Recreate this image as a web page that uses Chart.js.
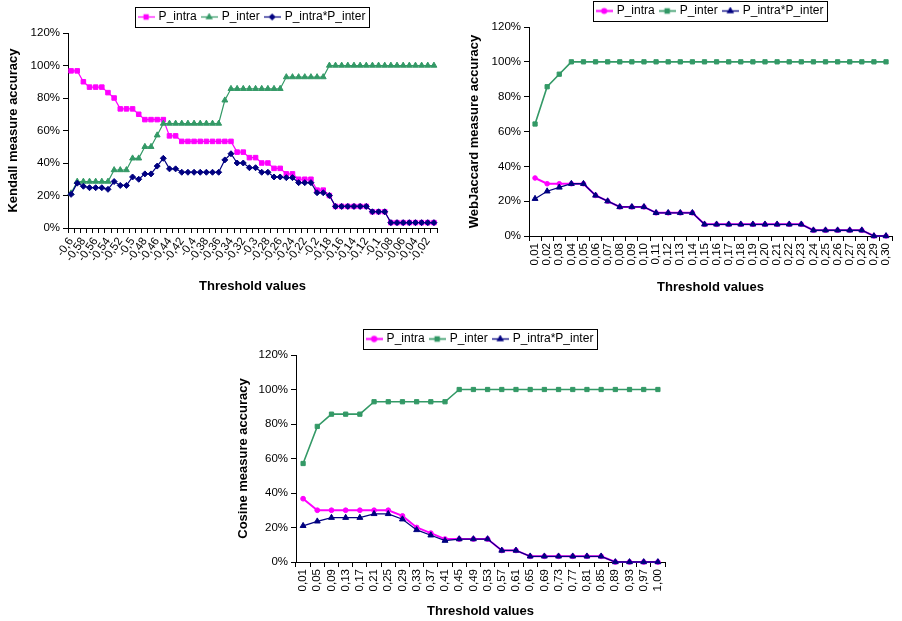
<!DOCTYPE html>
<html>
<head>
<meta charset="utf-8">
<script src="https://cdn.jsdelivr.net/npm/chart.js@4.4.1/dist/chart.umd.min.js"></script>
<style>
  html, body { margin: 0; padding: 0; background: #fff; }
  #page { position: relative; width: 902px; height: 621px; overflow: hidden; background: #fff; }
  #page canvas { position: absolute; }
</style>
</head>
<body>
<div id="page">
  <canvas id="kendall" width="451" height="300" style="left:0px;top:0px;width:451px;height:300px"></canvas>
  <canvas id="jaccard" width="452" height="301" style="left:450px;top:-1px;width:452px;height:301px"></canvas>
  <canvas id="cosine" width="450" height="301" style="left:230px;top:320px;width:450px;height:301px"></canvas>
</div>
<script>
// ---- Kendall measure ----
const kendallThresholds = [
  "-0,6","-0,59","-0,58","-0,57","-0,56","-0,55","-0,54","-0,53","-0,52","-0,51",
  "-0,5","-0,49","-0,48","-0,47","-0,46","-0,45","-0,44","-0,43","-0,42","-0,41",
  "-0,4","-0,39","-0,38","-0,37","-0,36","-0,35","-0,34","-0,33","-0,32","-0,31",
  "-0,3","-0,29","-0,28","-0,27","-0,26","-0,25","-0,24","-0,23","-0,22","-0,21",
  "-0,2","-0,19","-0,18","-0,17","-0,16","-0,15","-0,14","-0,13","-0,12","-0,11",
  "-0,1","-0,09","-0,08","-0,07","-0,06","-0,05","-0,04","-0,03","-0,02","-0,01"
];
const kendallIntra = [
  96.7, 96.7, 90.0, 86.7, 86.7, 86.7, 83.3, 80.0, 73.3, 73.3,
  73.3, 70.0, 66.7, 66.7, 66.7, 66.7, 56.7, 56.7, 53.3, 53.3,
  53.3, 53.3, 53.3, 53.3, 53.3, 53.3, 53.3, 46.7, 46.7, 43.3,
  43.3, 40.0, 40.0, 36.7, 36.7, 33.3, 33.3, 30.0, 30.0, 30.0,
  23.3, 23.3, 20.0, 13.3, 13.3, 13.3, 13.3, 13.3, 13.3, 10.0,
  10.0, 10.0, 3.3, 3.3, 3.3, 3.3, 3.3, 3.3, 3.3, 3.3
];
const kendallInter = [
  21.4, 28.6, 28.6, 28.6, 28.6, 28.6, 28.6, 35.7, 35.7, 35.7,
  42.9, 42.9, 50.0, 50.0, 57.1, 64.3, 64.3, 64.3, 64.3, 64.3,
  64.3, 64.3, 64.3, 64.3, 64.3, 78.6, 85.7, 85.7, 85.7, 85.7,
  85.7, 85.7, 85.7, 85.7, 85.7, 92.9, 92.9, 92.9, 92.9, 92.9,
  92.9, 92.9, 100, 100, 100, 100, 100, 100, 100, 100,
  100, 100, 100, 100, 100, 100, 100, 100, 100, 100
];
const kendallProduct = [
  20.7, 27.6, 25.7, 24.8, 24.8, 24.8, 23.8, 28.6, 26.2, 26.2,
  31.4, 30.0, 33.3, 33.3, 38.1, 42.9, 36.4, 36.4, 34.3, 34.3,
  34.3, 34.3, 34.3, 34.3, 34.3, 41.9, 45.7, 40.0, 40.0, 37.1,
  37.1, 34.3, 34.3, 31.4, 31.4, 31.0, 31.0, 27.9, 27.9, 27.9,
  21.7, 21.7, 20.0, 13.3, 13.3, 13.3, 13.3, 13.3, 13.3, 10.0,
  10.0, 10.0, 3.3, 3.3, 3.3, 3.3, 3.3, 3.3, 3.3, 3.3
];

// ---- WebJaccard measure ----
const jaccardThresholds = [
  "0,01","0,02","0,03","0,04","0,05","0,06","0,07","0,08","0,09","0,10",
  "0,11","0,12","0,13","0,14","0,15","0,16","0,17","0,18","0,19","0,20",
  "0,21","0,22","0,23","0,24","0,25","0,26","0,27","0,28","0,29","0,30"
];
const jaccardIntra = [
  33.3, 30.0, 30.0, 30.0, 30.0, 23.3, 20.0, 16.7, 16.7, 16.7,
  13.3, 13.3, 13.3, 13.3, 6.7, 6.7, 6.7, 6.7, 6.7, 6.7,
  6.7, 6.7, 6.7, 3.3, 3.3, 3.3, 3.3, 3.3, 0, 0
];
const jaccardInter = [
  64.3, 85.7, 92.9, 100, 100, 100, 100, 100, 100, 100,
  100, 100, 100, 100, 100, 100, 100, 100, 100, 100,
  100, 100, 100, 100, 100, 100, 100, 100, 100, 100
];
const jaccardProduct = [
  21.4, 25.7, 27.9, 30.0, 30.0, 23.3, 20.0, 16.7, 16.7, 16.7,
  13.3, 13.3, 13.3, 13.3, 6.7, 6.7, 6.7, 6.7, 6.7, 6.7,
  6.7, 6.7, 6.7, 3.3, 3.3, 3.3, 3.3, 3.3, 0, 0
];

// ---- Cosine measure ----
const cosineThresholds = [
  "0,01","0,05","0,09","0,13","0,17","0,21","0,25","0,29","0,33","0,37",
  "0,41","0,45","0,49","0,53","0,57","0,61","0,65","0,69","0,73","0,77",
  "0,81","0,85","0,89","0,93","0,97","1,00"
];
const cosineIntra = [
  36.7, 30.0, 30.0, 30.0, 30.0, 30.0, 30.0, 26.7, 20.0, 16.7,
  13.3, 13.3, 13.3, 13.3, 6.7, 6.7, 3.3, 3.3, 3.3, 3.3,
  3.3, 3.3, 0, 0, 0, 0
];
const cosineInter = [
  57.1, 78.6, 85.7, 85.7, 85.7, 92.9, 92.9, 92.9, 92.9, 92.9,
  92.9, 100, 100, 100, 100, 100, 100, 100, 100, 100,
  100, 100, 100, 100, 100, 100
];
const cosineProduct = [
  21.0, 23.6, 25.7, 25.7, 25.7, 27.9, 27.9, 24.8, 18.6, 15.5,
  12.4, 13.3, 13.3, 13.3, 6.7, 6.7, 3.3, 3.3, 3.3, 3.3,
  3.3, 3.3, 0, 0, 0, 0
];

// ---- shared axis ticks and series names ----
const accuracyTicks = [0, 20, 40, 60, 80, 100, 120];
const seriesNames = ["P_intra", "P_inter", "P_intra*P_inter"];

const PINK = "#FF00FF";
const GREEN = "#339966";
const NAVY = "#000080";
const FONT = '"Liberation Sans", Arial, Helvetica, sans-serif';

Chart.defaults.font.family = FONT;
Chart.defaults.color = "#000";

// Small line-with-marker swatch for the legend, marker drawn by Chart.js helpers
function legendSwatch(color, style, radius, lineWidth) {
  const c = document.createElement("canvas");
  c.width = 17; c.height = 9;
  const g = c.getContext("2d");
  g.strokeStyle = color;
  g.lineWidth = lineWidth;
  g.beginPath(); g.moveTo(0, 4.5); g.lineTo(17, 4.5); g.stroke();
  g.fillStyle = color;
  g.strokeStyle = color;
  if (Chart.helpers && Chart.helpers.drawPoint) {
    Chart.helpers.drawPoint(g, { pointStyle: style, radius: radius, rotation: 0, borderWidth: 1 }, 8.5, 4.5);
  } else {
    g.fillRect(6.5, 2.5, 4, 4);
  }
  return c;
}

function series(label, data, color, style, radius, width, order) {
  return {
    label: label, data: data,
    borderColor: color, backgroundColor: color,
    pointStyle: style, pointRadius: radius, pointHoverRadius: radius,
    pointBorderWidth: 1, borderWidth: width, tension: 0,
    clip: false, order: order,
    swatch: legendSwatch(color, style, radius * 0.9, Math.max(1, width))
  };
}

// Black frame around the legend entries
const legendFrame = {
  id: "legendFrame",
  afterDraw(chart) {
    const boxes = chart.legend && chart.legend.legendHitBoxes;
    if (!boxes || !boxes.length) return;
    let l = Infinity, r = -Infinity, t = Infinity, b = -Infinity;
    boxes.forEach(h => {
      l = Math.min(l, h.left); r = Math.max(r, h.left + h.width);
      t = Math.min(t, h.top); b = Math.max(b, h.top + h.height);
    });
    const ctx = chart.ctx;
    ctx.save();
    ctx.strokeStyle = "#000";
    ctx.lineWidth = 1;
    const x0 = Math.round(l - 5) + 0.5, y0 = Math.round(t - 4) + 0.5;
    ctx.strokeRect(x0, y0, Math.round(r + 4) - Math.round(l - 5), Math.round(b + 4) - Math.round(t - 4));
    ctx.restore();
  }
};

function buildChart(id, cfg) {
  return new Chart(document.getElementById(id), {
    type: "line",
    data: { labels: cfg.labels, datasets: cfg.datasets },
    options: {
      responsive: false,
      animation: false,
      devicePixelRatio: 1,
      layout: { padding: cfg.padding },
      plugins: {
        tooltip: { enabled: false },
        legend: {
          position: "top",
          fullSize: false,
          labels: {
            usePointStyle: true,
            pointStyleWidth: 13,
            padding: 6,
            color: "#000",
            font: { size: 12 },
            sort: (a, b) => a.datasetIndex - b.datasetIndex,
            generateLabels(chart) {
              const items = Chart.defaults.plugins.legend.labels.generateLabels(chart);
              items.forEach(it => { it.pointStyle = chart.data.datasets[it.datasetIndex].swatch; });
              return items;
            }
          }
        }
      },
      scales: {
        x: {
          type: "category",
          offset: true,
          grid: { display: true, drawOnChartArea: false, offset: true, drawTicks: true, tickLength: 5, color: "#000", lineWidth: 1 },
          border: { display: true, color: "#000", width: 1 },
          ticks: {
            autoSkip: false,
            minRotation: cfg.rotation, maxRotation: cfg.rotation,
            padding: 2, color: "#000",
            font: { size: 11.5 },
            callback(value, index) {
              return index % cfg.labelEvery === 0 ? this.getLabelForValue(value) : "";
            }
          },
          title: { display: true, text: "Threshold values", color: "#000", font: { size: 13, weight: "bold" }, padding: 0 },
          afterFit(scale) { scale.height = cfg.xHeight; }
        },
        y: {
          min: accuracyTicks[0],
          max: accuracyTicks[accuracyTicks.length - 1],
          afterBuildTicks(scale) { scale.ticks = accuracyTicks.map(v => ({ value: v })); },
          grid: { display: true, drawOnChartArea: false, drawTicks: true, tickLength: 5, color: "#000", lineWidth: 1 },
          border: { display: true, color: "#000", width: 1 },
          ticks: { padding: 3, color: "#000", font: { size: 11.5 }, callback: v => v + "%" },
          title: { display: true, text: cfg.yTitle, color: "#000", font: { size: 13, weight: "bold" }, padding: 0 },
          afterFit(scale) { scale.width = cfg.yWidth; }
        }
      }
    },
    plugins: [legendFrame]
  });
}

buildChart("kendall", {
  labels: kendallThresholds,
  yTitle: "Kendall measure accuracy",
  rotation: 55, labelEvery: 2,
  padding: { left: 6, top: 5, right: 14, bottom: 6 },
  yWidth: 62, xHeight: 66,
  datasets: [
    series(seriesNames[0], kendallIntra, PINK, "rect", 3.2, 1.2, 2),
    series(seriesNames[1], kendallInter, GREEN, "triangle", 3.4, 1.2, 1),
    series(seriesNames[2], kendallProduct, NAVY, "rectRot", 3.0, 1.2, 0)
  ]
});

buildChart("jaccard", {
  labels: jaccardThresholds,
  yTitle: "WebJaccard measure accuracy",
  rotation: 90, labelEvery: 1,
  padding: { left: 17, top: 0, right: 1, bottom: 5 },
  yWidth: 62, xHeight: 59,
  datasets: [
    series(seriesNames[0], jaccardIntra, PINK, "circle", 2.3, 2, 2),
    series(seriesNames[1], jaccardInter, GREEN, "rect", 3.0, 1.6, 1),
    series(seriesNames[2], jaccardProduct, NAVY, "triangle", 3.4, 1.3, 0)
  ]
});

buildChart("cosine", {
  labels: cosineThresholds,
  yTitle: "Cosine measure accuracy",
  rotation: 90, labelEvery: 1,
  padding: { left: 6, top: 7, right: 15, bottom: 2 },
  yWidth: 60, xHeight: 57,
  datasets: [
    series(seriesNames[0], cosineIntra, PINK, "circle", 2.4, 2, 2),
    series(seriesNames[1], cosineInter, GREEN, "rect", 3.0, 1.6, 1),
    series(seriesNames[2], cosineProduct, NAVY, "triangle", 3.4, 1.3, 0)
  ]
});
</script>
</body>
</html>
